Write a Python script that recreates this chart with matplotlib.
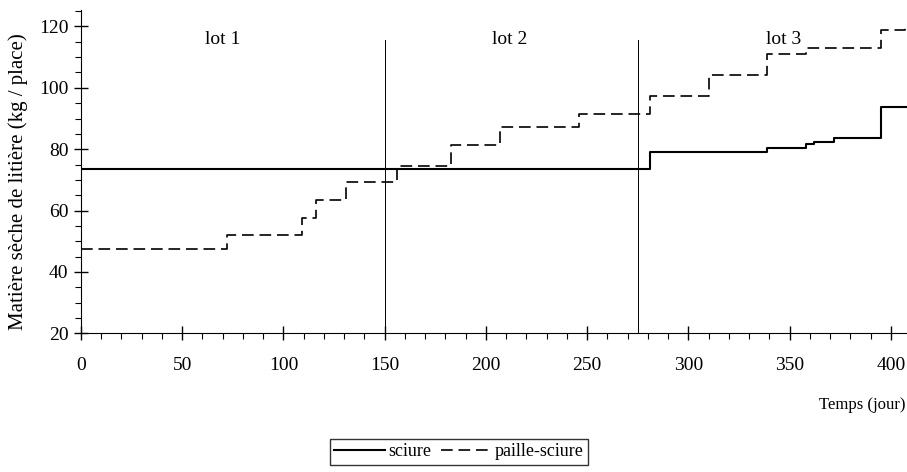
import matplotlib.pyplot as plt
from matplotlib.ticker import MultipleLocator

plt.rcParams['font.family'] = ['Liberation Serif', 'DejaVu Serif']

# step data: day where each level starts, and the level (kg / place)
sciure_days = [0, 281, 339, 358, 362, 372, 395, 409]
sciure_vals = [73.5, 79.1, 80.5, 81.6, 82.2, 83.8, 93.7, 93.7]

paille_days = [0, 72, 109, 116, 131, 156, 183, 207, 246, 281, 310, 339, 358, 395, 407, 409]
paille_vals = [47.6, 51.9, 57.6, 63.5, 69.2, 74.4, 81.4, 87.2, 91.6, 97.5, 104.3, 111.1, 113.0, 118.9, 120.3, 120.3]

lot_limits = [150, 275]
lot_names = ["lot 1", "lot 2", "lot 3"]
lot_pos = [70, 212, 347]

fig = plt.figure(figsize=(9.07, 4.72), dpi=100)
ax = fig.add_axes([81 / 907, 138.7 / 472, 828 / 907, 323.7 / 472])

ax.step(sciure_days, sciure_vals, where='post', color='black', lw=1.5, label='sciure')
ax.step(paille_days, paille_vals, where='post', color='black', lw=1.2,
        linestyle=(0, (7, 3.5)), label='paille-sciure')

for x in lot_limits:
    ax.plot([x, x], [20, 115.5], color='black', lw=0.7)

for name, x in zip(lot_names, lot_pos):
    ax.text(x, 115.7, name, fontsize=14, ha='center', va='center')

ax.set_xlim(0, 409)
ax.set_ylim(20, 125.5)
ax.xaxis.set_major_locator(MultipleLocator(50))
ax.xaxis.set_minor_locator(MultipleLocator(10))
ax.yaxis.set_major_locator(MultipleLocator(20))
ax.yaxis.set_minor_locator(MultipleLocator(5))

ax.spines['top'].set_visible(False)
ax.spines['right'].set_visible(False)
ax.tick_params(axis='both', which='major', direction='inout', length=10, width=1, labelsize=14)
ax.tick_params(axis='both', which='minor', direction='out', length=4, width=0.8)
ax.tick_params(axis='x', which='major', pad=12)
ax.tick_params(axis='y', which='major', pad=4)

ax.set_ylabel("Matière sèche de litière (kg / place)", fontsize=15)
ax.yaxis.set_label_coords(-0.064, 0.47)
fig.text(862 / 907, 1 - 405 / 472, "Temps (jour)", fontsize=12, ha='center', va='center')

fig.legend(loc='center', bbox_to_anchor=(459 / 907, 1 - 452 / 472), ncol=2,
           fontsize=13, frameon=True, fancybox=False, edgecolor='black',
           handlelength=2.8, handletextpad=0.2, columnspacing=0.5,
           borderpad=0.25, borderaxespad=0)

fig.savefig("out.png", dpi=100)
